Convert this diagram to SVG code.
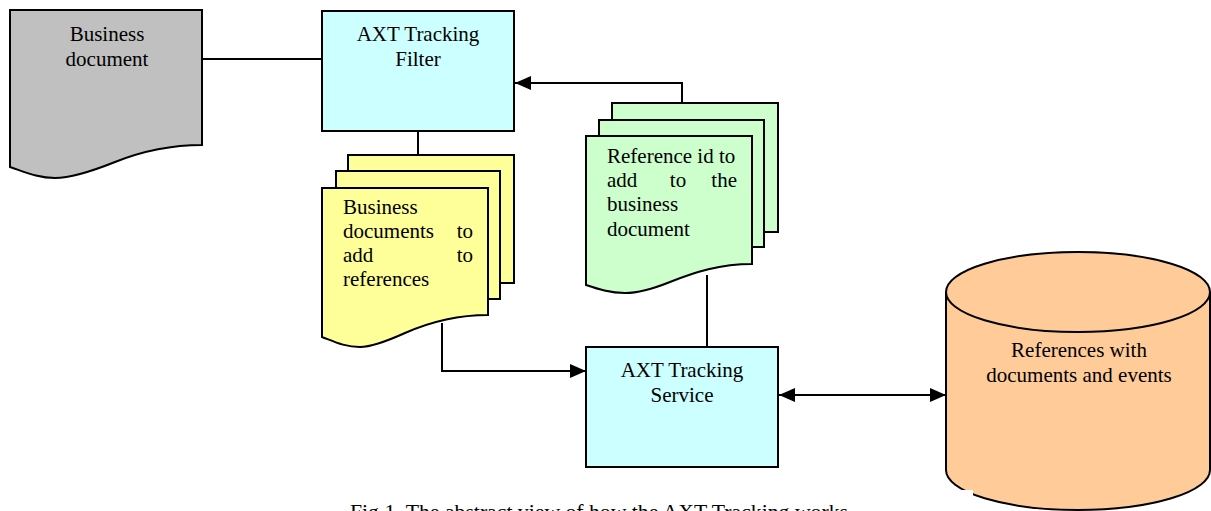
<svg xmlns="http://www.w3.org/2000/svg" width="1211" height="511" viewBox="0 0 1211 511">
<style>
.s{stroke:#000;stroke-width:2;}
.t{font-family:"Liberation Serif","Times New Roman",serif;font-size:21px;fill:#000;}
.c{text-anchor:middle;}
.e{text-anchor:end;}
.ln{fill:none;stroke:#000;stroke-width:2;}
</style>
<defs>
<marker id="ah" markerWidth="16" markerHeight="14" refX="16" refY="7" orient="auto" markerUnits="userSpaceOnUse">
<path d="M0,0 L16,7 L0,14 Z" fill="#000"/>
</marker>
<marker id="as" markerWidth="16" markerHeight="14" refX="0" refY="7" orient="auto" markerUnits="userSpaceOnUse">
<path d="M16,0 L0,7 L16,14 Z" fill="#000"/>
</marker>
</defs>
<rect width="1211" height="511" fill="#fff"/>
<g id="connectors">
<path class="ln" d="M202,59 H322"/>
<path class="ln" d="M418,131 V155"/>
<path class="ln" d="M682,107 V83 H515" marker-end="url(#ah)"/>
<path class="ln" d="M442,323 V371 H586" marker-end="url(#ah)"/>
<path class="ln" d="M707,275 V347"/>
<path class="ln" d="M779,395 H946" marker-start="url(#as)" marker-end="url(#ah)"/>
</g>
<g id="business-document">
<path class="s" fill="#c0c0c0" d="M10,10 H202 V145 C170,145 140,152 115,162 C90,172 70,178 55,178 C38,178 25,172 10,167 Z"/>
<text class="t c" x="107" y="41">Business</text>
<text class="t c" x="107" y="66">document</text>
</g>
<g id="filter">
<rect class="s" fill="#ccffff" x="322" y="11" width="192" height="120"/>
<text class="t c" x="418" y="41">AXT Tracking</text>
<text class="t c" x="418" y="66">Filter</text>
</g>
<g id="business-documents">
<rect class="s" fill="#ffff99" x="348" y="155" width="166" height="128"/>
<rect class="s" fill="#ffff99" x="336" y="171" width="164" height="128"/>
<path class="s" fill="#ffff99" d="M322,188 H488 V315 C455,315 430,322 405,333 C385,342 370,347 360,347 C345,347 335,342 322,337 Z"/>
<text class="t" x="343" y="214">Business</text>
<text class="t" x="343" y="238">documents</text>
<text class="t e" x="473" y="238">to</text>
<text class="t" x="343" y="262">add</text>
<text class="t e" x="473" y="262">to</text>
<text class="t" x="343" y="286">references</text>
</g>
<g id="reference-ids">
<rect class="s" fill="#ccffcc" x="612" y="103" width="166" height="129"/>
<rect class="s" fill="#ccffcc" x="599" y="120" width="165" height="127"/>
<path class="s" fill="#ccffcc" d="M586,136 H752 V264 C720,264 695,272 670,282 C650,290 635,293 625,293 C610,293 598,289 586,285 Z"/>
<text class="t" x="607" y="163">Reference id to</text>
<text class="t" x="607" y="187">add</text>
<text class="t c" x="678" y="187">to</text>
<text class="t e" x="737" y="187">the</text>
<text class="t" x="607" y="211">business</text>
<text class="t" x="607" y="236">document</text>
</g>
<g id="service">
<rect class="s" fill="#ccffff" x="586" y="347" width="192" height="120"/>
<text class="t c" x="682" y="377">AXT Tracking</text>
<text class="t c" x="682" y="402">Service</text>
</g>
<g id="database">
<path class="s" fill="#ffcc99" d="M946,292 A132,40 0 0 1 1210,292 V470 A132,40 0 0 1 946,470 Z"/>
<path class="ln" d="M946,292 A132,40 0 0 0 1210,292"/>
<text class="t c" x="1079" y="357">References with</text>
<text class="t c" x="1079" y="382">documents and events</text>
<rect x="930" y="490" width="43" height="21" fill="#fff"/>
</g>
<g id="caption">
<text class="t" x="350" y="519" textLength="498" lengthAdjust="spacingAndGlyphs">Fig.1. The abstract view of how the AXT Tracking works</text>
</g>
</svg>
